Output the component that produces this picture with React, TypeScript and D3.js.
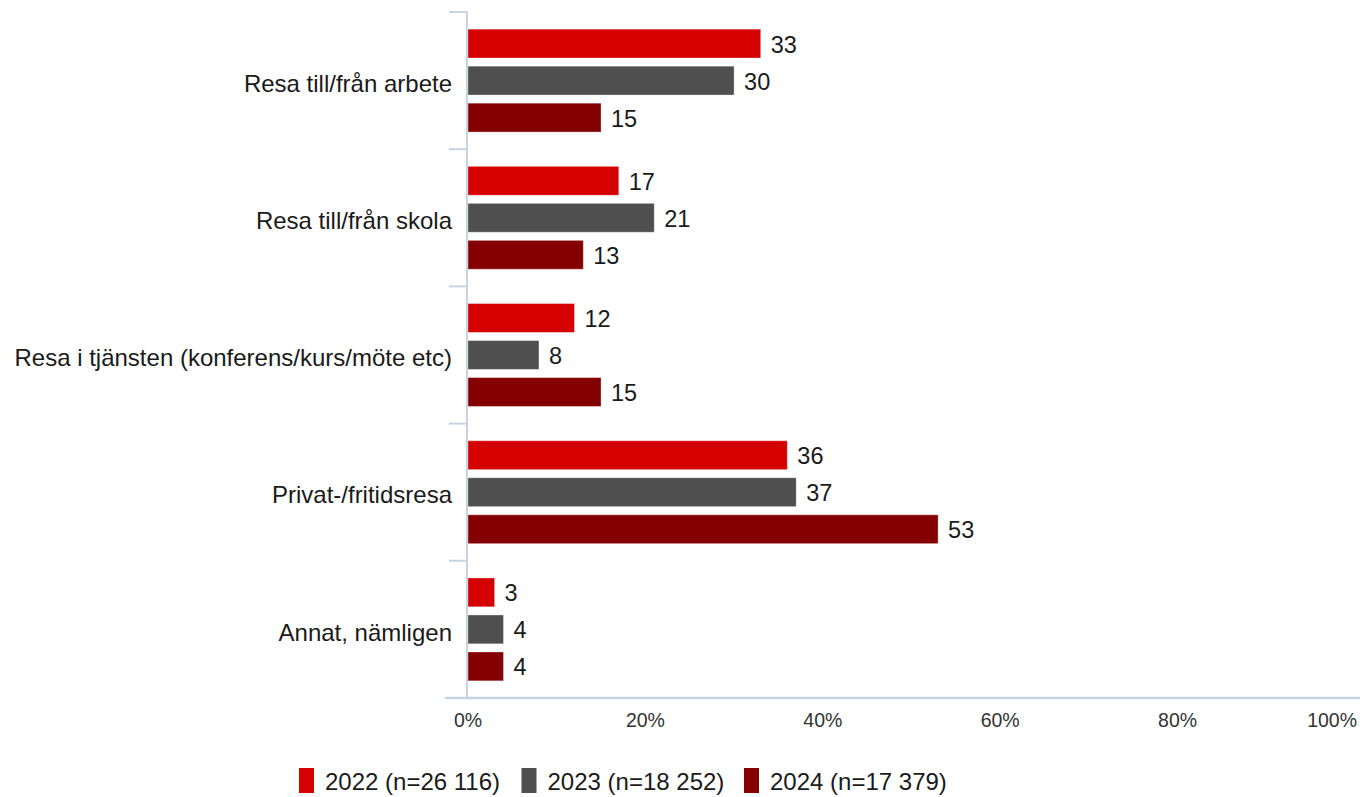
import React from 'react';
import * as d3 from 'd3';

const categories = [
  'Resa till/från arbete',
  'Resa till/från skola',
  'Resa i tjänsten (konferens/kurs/möte etc)',
  'Privat-/fritidsresa',
  'Annat, nämligen',
];
const seriesNames = ['2022 (n=26 116)', '2023 (n=18 252)', '2024 (n=17 379)'];
const seriesColors = ['#d50000', '#4f4f4f', '#840000'];
const values2022 = [33, 17, 12, 36, 3];
const values2023 = [30, 21, 8, 37, 4];
const values2024 = [15, 13, 15, 53, 4];
const xTicks = [0, 20, 40, 60, 80, 100];

const W = 1360;
const H = 797;
const FONT = "'Liberation Sans', Arial, sans-serif";
const AXIS_COLOR = '#c7d4e3';

const App: React.FC = () => {
  const seriesValues = [values2022, values2023, values2024];

  const plotLeft = 468;
  const plotRight = 1355;
  const plotTop = 12;
  const plotBottom = 698;

  const x = d3.scaleLinear().domain([0, 100]).range([plotLeft, plotRight]);

  const y = d3
    .scaleBand<string>()
    .domain(categories)
    .range([plotTop, plotBottom])
    .paddingInner(0.25)
    .paddingOuter(0.125);

  const yInner = d3
    .scaleBand<number>()
    .domain(d3.range(seriesNames.length))
    .range([0, y.bandwidth()])
    .paddingInner(0.22);

  const step = y.step();
  // boundaries between categories for the y-axis tick marks
  const boundaries = d3.range(categories.length + 1).map((i) => plotTop + i * step);

  // legend layout
  const legendY = 768;
  const legendX0 = 299;
  const legendStep = 222.5;

  return (
    <div style={{ position: 'absolute', left: 0, top: 0 }}>
      <svg width={W} height={H} viewBox={`0 0 ${W} ${H}`} style={{ display: 'block', background: '#fff' }}>
        {/* bars */}
        {categories.map((cat, ci) => (
          <g key={cat} transform={`translate(0,${y(cat)})`}>
            {seriesValues.map((vals, si) => {
              const v = vals[ci];
              const by = yInner(si) ?? 0;
              const bh = yInner.bandwidth();
              return (
                <g key={si}>
                  <rect
                    x={x(0)}
                    y={by}
                    width={x(v) - x(0)}
                    height={bh}
                    fill={seriesColors[si]}
                    stroke="rgba(255,255,255,0.35)"
                    strokeWidth={1}
                  />
                  <text
                    x={x(v) + 10}
                    y={by + bh / 2}
                    dy="0.38em"
                    fontFamily={FONT}
                    fontSize={23.5}
                    fill="#1a1a1a"
                  >
                    {v}
                  </text>
                </g>
              );
            })}
            <text
              x={452}
              y={y.bandwidth() / 2 + 2}
              dy="0.38em"
              textAnchor="end"
              fontFamily={FONT}
              fontSize={24}
              fill="#1a1a1a"
            >
              {cat}
            </text>
          </g>
        ))}

        {/* y axis */}
        <line x1={plotLeft - 1} x2={plotLeft - 1} y1={plotTop} y2={plotBottom} stroke={AXIS_COLOR} strokeWidth={2} />
        {boundaries.map((b, i) => (
          <line key={i} x1={449} x2={plotLeft - 1} y1={b} y2={b} stroke={AXIS_COLOR} strokeWidth={2} />
        ))}

        {/* x axis */}
        <line x1={445} x2={W} y1={plotBottom} y2={plotBottom} stroke={AXIS_COLOR} strokeWidth={2.5} />
        {xTicks.map((t, i) => {
          const last = i === xTicks.length - 1;
          return (
            <text
              key={t}
              x={last ? W - 3 : x(t)}
              y={720}
              dy="0.36em"
              textAnchor={last ? 'end' : 'middle'}
              fontFamily={FONT}
              fontSize={19.5}
              fill="#333"
            >
              {`${t}%`}
            </text>
          );
        })}

        {/* legend */}
        {seriesNames.map((name, i) => {
          const lx = legendX0 + i * legendStep;
          return (
            <g key={name}>
              <rect x={lx} y={legendY} width={15} height={25} fill={seriesColors[i]} />
              <text x={lx + 26} y={legendY + 13} dy="0.36em" fontFamily={FONT} fontSize={24} fill="#1a1a1a">
                {name}
              </text>
            </g>
          );
        })}
      </svg>
    </div>
  );
};

export default App;
